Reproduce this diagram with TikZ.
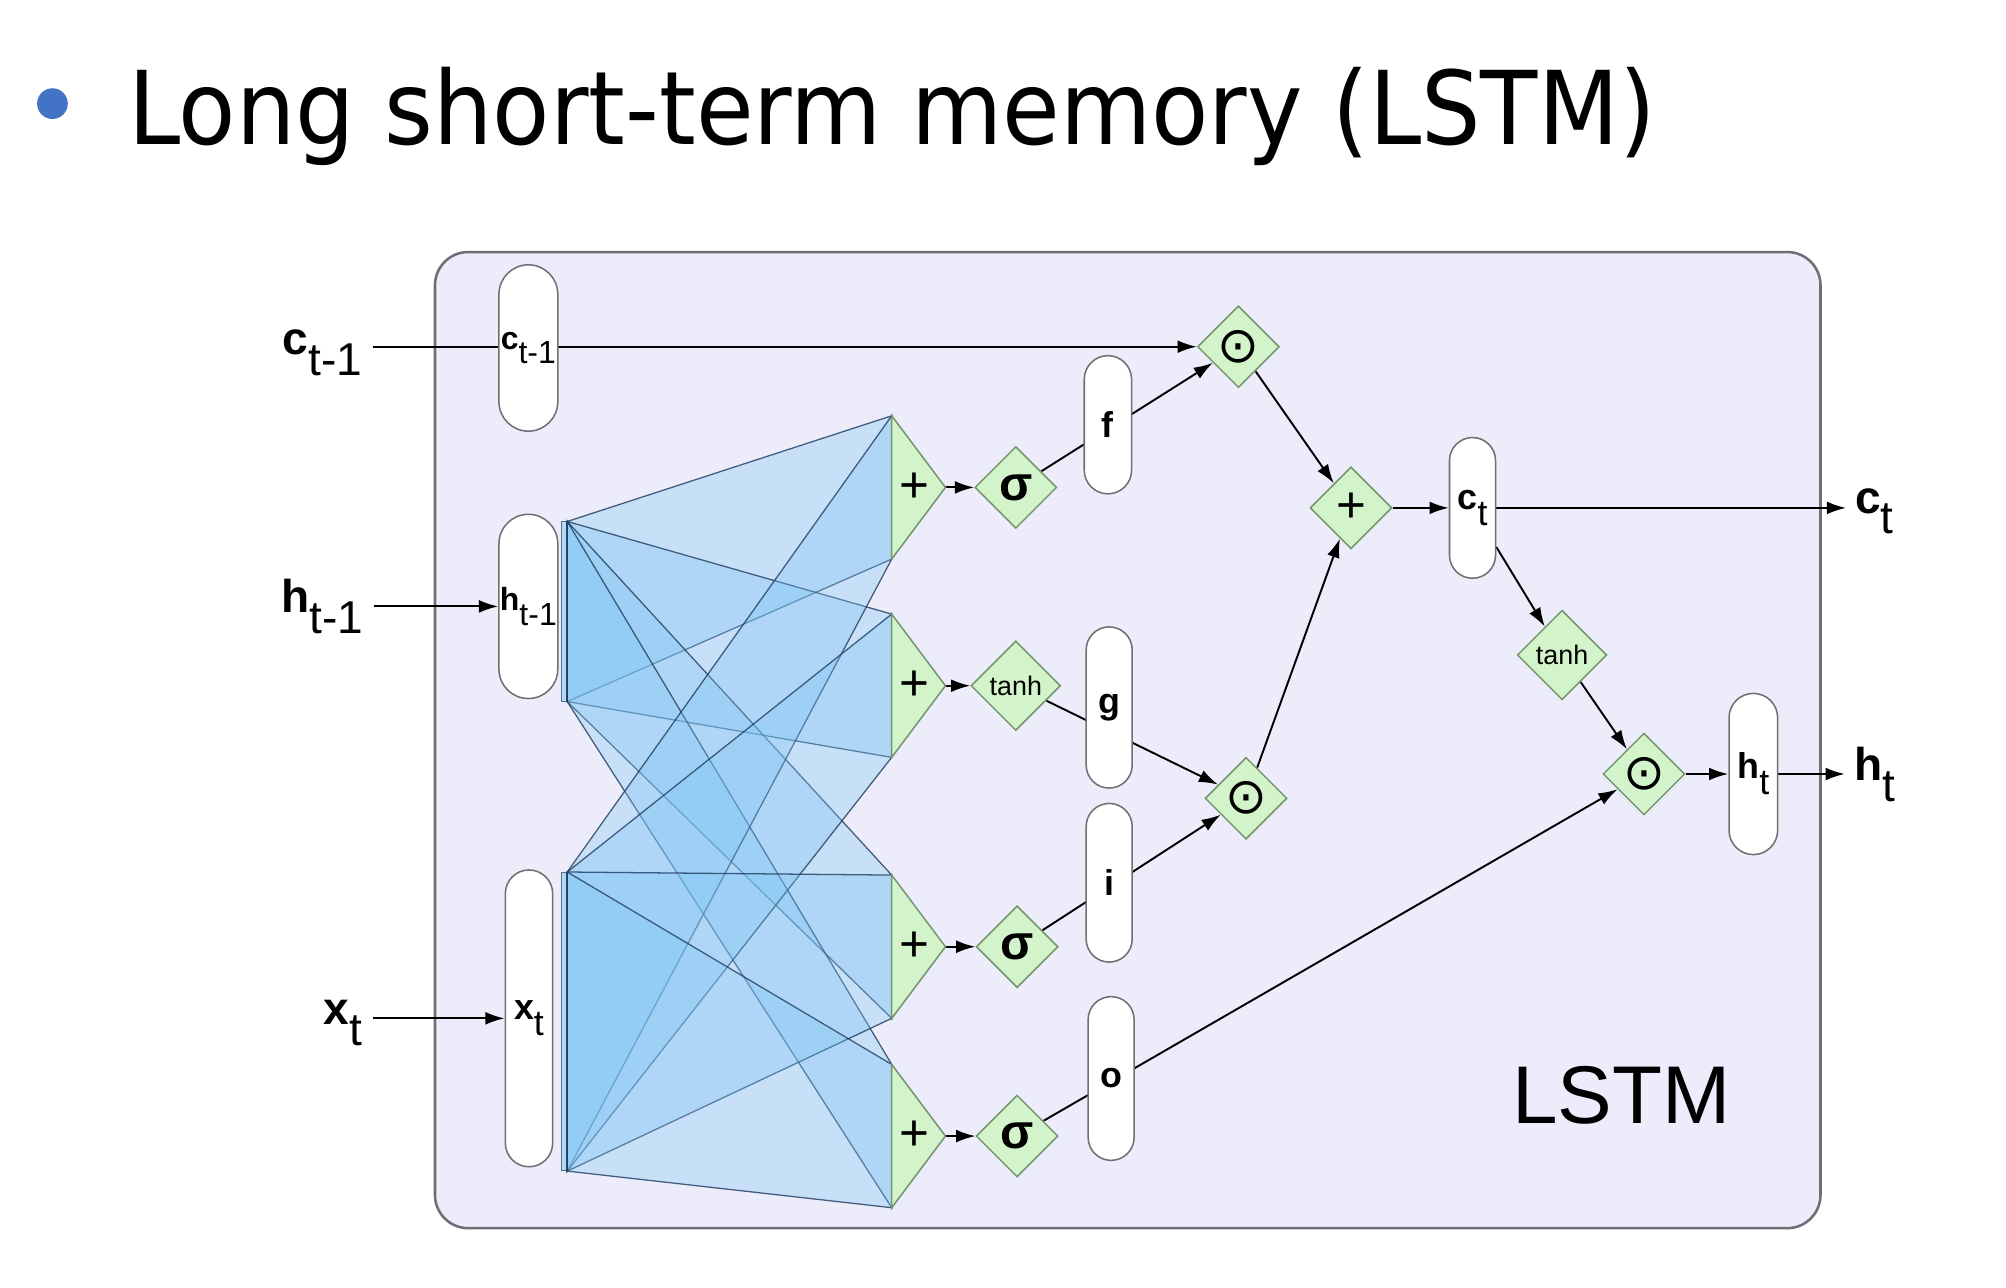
\documentclass[tikz,border=0pt]{standalone}
\usepackage{fontspec}
\setmainfont{Liberation Sans}
\newfontfamily\titlefont[FakeStretch=0.92]{DejaVu Sans}
\newfontfamily\symfont{DejaVu Sans}
\usetikzlibrary{arrows.meta}
\usetikzlibrary{calc}
\usetikzlibrary{fit}
\usetikzlibrary{positioning}
\usetikzlibrary{shapes.geometric}

\definecolor{cellfill}{HTML}{EDECFB}
\definecolor{cellline}{HTML}{6F6F78}
\definecolor{gatefill}{HTML}{D3F4CA}
\definecolor{gateline}{HTML}{76966E}
\definecolor{pillline}{HTML}{707070}
\definecolor{fanfill}{HTML}{7DC5F3}
\definecolor{fanline}{HTML}{1D3B5E}
\definecolor{bulletblue}{HTML}{4472C4}

\pgfdeclarelayer{back}
\pgfdeclarelayer{wires}
\pgfsetlayers{back,wires,main}

% bold symbol with its lowered index
\newcommand{\sublbl}[2]{\textbf{#1}\raisebox{-0.45em}{#2}}

\tikzset{
  cellbox/.style={draw=cellline,fill=cellfill,line width=2pt,rounded corners=26pt,inner sep=0pt},
  pill/.style={draw=pillline,fill=white,line width=1.2pt,inner sep=0pt,
    minimum width=#1,rounded corners=#1/2,font=\fontsize{25}{25}\selectfont},
  pill/.default=36pt,
  gate/.style={diamond,draw=gateline,fill=gatefill,line width=1.2pt,inner sep=0pt,
    minimum width=#1,minimum height=#1},
  gate/.default=64pt,
  sumgate/.style={draw=gateline,fill=gatefill,line width=1.2pt},
  fan/.style={draw=fanline,draw opacity=0.8,fill=fanfill,fill opacity=0.32,line width=1pt},
  srcbar/.style={draw=fanline,draw opacity=0.7,fill=fanfill,fill opacity=0.5,line width=0.8pt,
    minimum width=4pt,inner sep=0pt},
  iolabel/.style={inner sep=0pt,font=\fontsize{36}{36}\selectfont},
  gatelabel/.style={font=\bfseries\fontsize{28}{28}\selectfont},
  biglabel/.style={font=\fontsize{28}{28}\selectfont},
  opsign/.style={inner sep=0pt,font=\fontsize{40}{40}\selectfont},
  sigsign/.style={font=\bfseries\fontsize{38}{38}\selectfont},
  tanhsign/.style={font=\fontsize{21}{21}\selectfont},
  odotsign/.style={font=\symfont\fontsize{39}{39}\selectfont},
  wire/.style={line width=1.5pt,
    every edge/.append style={draw,->,>={Latex[length=15pt,width=10pt]}}},
}

\begin{document}
\begin{tikzpicture}[x=1pt,y=-1pt]
  \useasboundingbox (0,0) rectangle (1568,1006.7);

  % heading
  \node [circle,fill=bulletblue,minimum size=24pt,inner sep=0pt] (bullet) at (41,81) {};
  \node [anchor=base west,inner sep=0pt,font=\titlefont\fontsize{79.6}{90}\selectfont]
    (title) at (100,113) {Long short-term memory (LSTM)};

  % cell outline
  \coordinate (cell_nw) at (340,197);
  \coordinate (cell_se) at (1423,960);
  \begin{pgfonlayer}{back}
    \node [cellbox,fit=(cell_nw) (cell_se)] (cell) {};
  \end{pgfonlayer}
  \node [anchor=base west,inner sep=0pt,font=\fontsize{64}{64}\selectfont]
    (cell_name) at (1182,878) {LSTM};

  % inputs and outputs
  \node [iolabel,anchor=base west] (c_in)  at (221,277)  {\sublbl{c}{t-1}};
  \node [iolabel,anchor=base west] (h_in)  at (220,479)  {\sublbl{h}{t-1}};
  \node [iolabel,anchor=base west] (x_in)  at (253,801)  {\sublbl{x}{t}};
  \node [iolabel,anchor=base west] (c_out) at (1450,401) {\sublbl{c}{t}};
  \node [iolabel,anchor=base west] (h_out) at (1449,610) {\sublbl{h}{t}};

  % vectors
  \node [pill=46pt,minimum height=130pt] (Pc_prev) at (413,272) {\sublbl{c}{t-1}};
  \node [pill=46pt,minimum height=144pt] (Ph_prev) at (413,474) {\sublbl{h}{t-1}};
  \node [pill=37pt,minimum height=232pt,biglabel] (Px) at (413.5,796) {\sublbl{x}{t}};
  \node [pill=37pt,minimum height=108pt,gatelabel] (Pf) at (866,332)   {f};
  \node [pill=36pt,minimum height=126pt,gatelabel] (Pg) at (867,553)   {g};
  \node [pill=36pt,minimum height=124pt,gatelabel] (Pi) at (867,690)   {i};
  \node [pill=36pt,minimum height=128pt,gatelabel] (Po) at (868.5,843) {o};
  \node [pill=36pt,minimum height=110pt,biglabel] (Pc) at (1151,397)   {\sublbl{c}{t}};
  \node [pill=38pt,minimum height=126pt,biglabel] (Ph) at (1370.5,605) {\sublbl{h}{t}};

  % weights: h and x onto the four sums
  \node [srcbar,minimum height=140pt] (Bh) at (441,478) {};
  \node [srcbar,minimum height=233pt] (Bx) at (441,798.5) {};
  \foreach \k/\y in {1/381,2/536,3/740,4/888} {
    \coordinate (T_top_\k) at (697,\y-56);
    \coordinate (T_bot_\k) at (697,\y+56);
    \coordinate (T_tip_\k) at (739,\y);
  }
  \foreach \s in {h,x}
    \foreach \k in {1,...,4}
      \filldraw [fan] (B\s.north east) -- (T_top_\k) -- (T_bot_\k) -- (B\s.south east) -- cycle;
  \foreach \k in {1,...,4} {
    \filldraw [sumgate] (T_top_\k) -- (T_tip_\k) -- (T_bot_\k) -- cycle;
    \node [opsign] (Aplus_\k) at ($(T_top_\k)!0.5!(T_bot_\k)+(18,0)$) {+};
  }

  % gates
  \node [gate,sigsign]       (Asig_1)  at (794,381)  {σ};
  \node [gate=70pt,tanhsign] (Atanh_g) at (794,536)  {tanh};
  \node [gate,sigsign]       (Asig_3)  at (795,740)  {σ};
  \node [gate,sigsign]       (Asig_4)  at (795,888)  {σ};
  \node [gate,odotsign]      (Aodot_f) at (968,271)  {⊙};
  \node [gate,opsign]        (Asum)    at (1056,397) {+};
  \node [gate,odotsign]      (Aodot_i) at (974,624)  {⊙};
  \node [gate=70pt,tanhsign] (Atanh_c) at (1221,512) {tanh};
  \node [gate,odotsign]      (Aodot_o) at (1285,605) {⊙};

  \begin{pgfonlayer}{wires}
    \foreach \k/\g in {1/Asig_1,2/Atanh_g,3/Asig_3,4/Asig_4}
      \path [wire] (T_tip_\k) edge (\g);

    \path [wire]
      (c_in.east |- Aodot_f) edge [shorten <=8pt] (Aodot_f)
      (h_in.east |- Ph_prev) edge [shorten <=8pt] (Ph_prev)
      (x_in.east |- Px)      edge [shorten <=8pt] (Px)
      (Asig_1)  edge (Aodot_f)
      (Atanh_g) edge (Aodot_i)
      (Asig_3)  edge (Aodot_i)
      (Asig_4)  edge (Aodot_o)
      (Aodot_f) edge (Asum)
      (Aodot_i) edge (Asum)
      (Asum)    edge (Pc)
      (Pc)      edge (Atanh_c)
      (Atanh_c) edge (Aodot_o)
      (Aodot_o) edge (Ph)
      (Pc.east) edge [shorten >=7pt] (c_out.west |- Pc.east)
      (Ph.east) edge [shorten >=7pt] (h_out.west |- Ph.east);
  \end{pgfonlayer}

\end{tikzpicture}
\end{document}
